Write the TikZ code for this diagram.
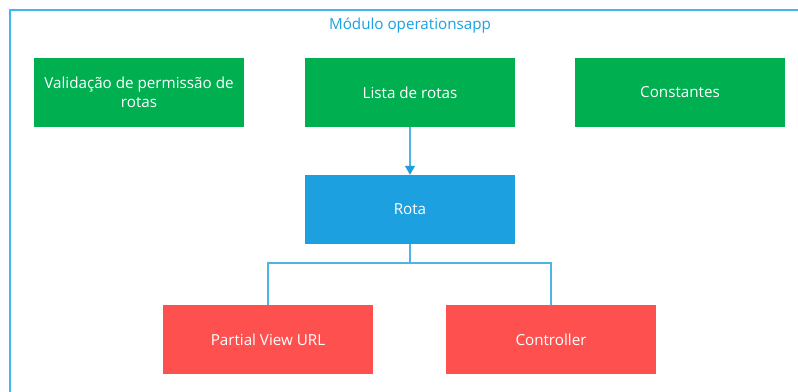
\documentclass[tikz,border=0pt]{standalone}
\usepackage{fontspec}
\setmainfont{Open Sans}
\usetikzlibrary{arrows.meta}
\definecolor{frameblue}{HTML}{41B6F0}
\definecolor{titleblue}{HTML}{1BA1E2}
\definecolor{boxgreen}{HTML}{00B050}
\definecolor{boxblue}{HTML}{1CA0E0}
\definecolor{boxred}{HTML}{FF5050}
\definecolor{linkblue}{HTML}{4FB3E6}
\definecolor{tipblue}{HTML}{1E9EDE}
\begin{document}
\begin{tikzpicture}[x=1pt,y=-1pt,
  box/.style={minimum width=210pt,minimum height=69pt,inner sep=2pt,
    text=white,font=\fontsize{15.2}{19}\selectfont,align=center},
  link/.style={draw=linkblue,line width=1.2pt}]
\useasboundingbox (0,0) rectangle (798,391);
\fill[white] (0,0) rectangle (798,391);
% module frame, running past the page edges
\draw[frameblue,line width=1.5pt] (810,10) -- (10,10) -- (10,400);
\node[text=titleblue,font=\fontsize{15.2}{19}\selectfont] (title) at (410,26) {Módulo operationsapp};
% nodes
\node[box,fill=boxgreen] (valid) at (139,92.5) {Validação de permissão de\\rotas};
\node[box,fill=boxgreen] (lista) at (410,92.5) {Lista de rotas};
\node[box,fill=boxgreen] (const) at (680,92.5) {Constantes};
\node[box,fill=boxblue] (rota) at (410,209.5) {Rota};
\node[box,fill=boxred] (partial) at (268,339.5) {Partial View URL};
\node[box,fill=boxred] (ctrl) at (551,339.5) {Controller};
% connectors
\draw[link,-{Triangle[length=9pt,width=10pt,color=tipblue]}] (lista) -- (rota);
\coordinate (fork) at (410,263);
\draw[link] (rota.south) -- (fork);
\draw[link] (fork) -| (partial.north);
\draw[link] (fork) -| (ctrl.north);
\end{tikzpicture}
\end{document}
